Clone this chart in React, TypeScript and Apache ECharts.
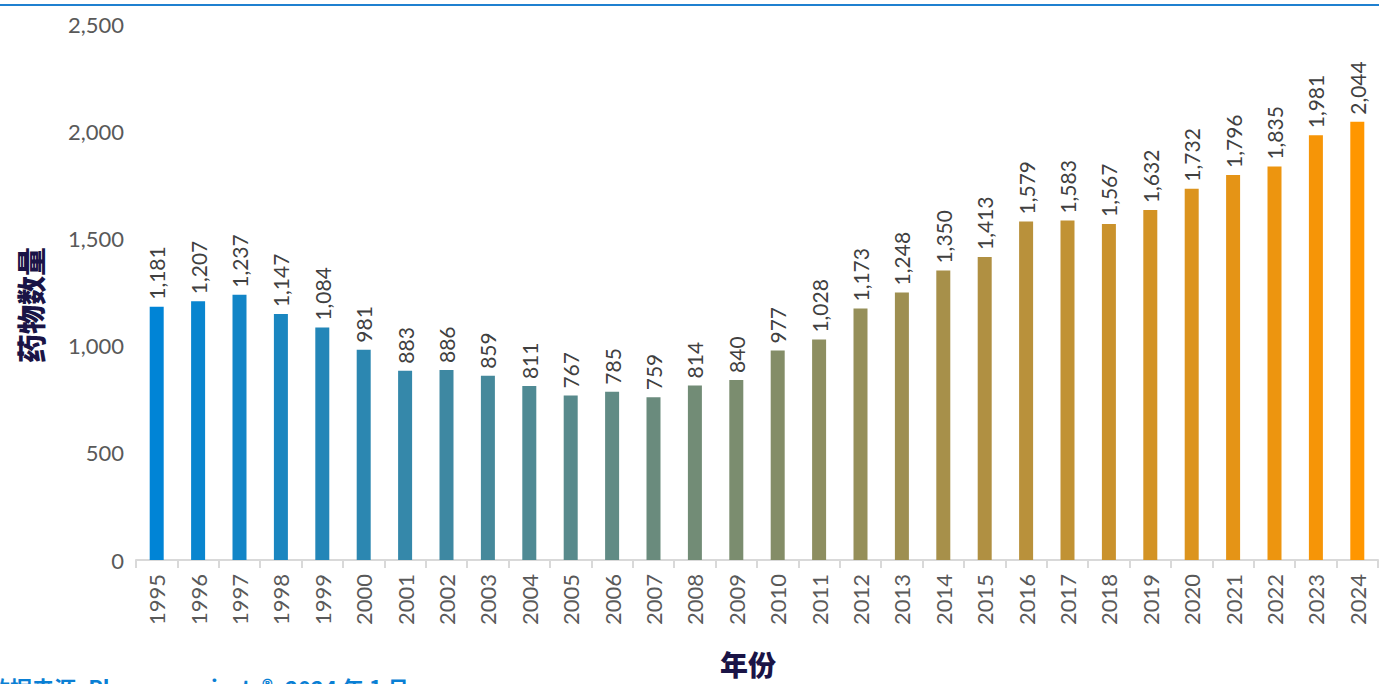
import React, { useEffect, useRef } from "react";
import * as echarts from "echarts";

const years = [
  "1995", "1996", "1997", "1998", "1999", "2000", "2001", "2002", "2003", "2004",
  "2005", "2006", "2007", "2008", "2009", "2010", "2011", "2012", "2013", "2014",
  "2015", "2016", "2017", "2018", "2019", "2020", "2021", "2022", "2023", "2024",
];
const drugCounts = [
  1181, 1207, 1237, 1147, 1084, 981, 883, 886, 859, 811,
  767, 785, 759, 814, 840, 977, 1028, 1173, 1248, 1350,
  1413, 1579, 1583, 1567, 1632, 1732, 1796, 1835, 1981, 2044,
];
const yTitle = "药物数量";
const xTitle = "年份";
const sourceText = "数据来源: Pharmaprojects®, 2024 年 1 月";

const startRGB = [0, 132, 214];
const endRGB = [255, 150, 0];
function barColor(i: number, n: number) {
  const t = n > 1 ? i / (n - 1) : 0;
  const c = startRGB.map((s, k) => Math.round(s + (endRGB[k] - s) * t));
  return `rgb(${c[0]},${c[1]},${c[2]})`;
}

export default function App() {
  const ref = useRef<HTMLDivElement>(null);
  useEffect(() => {
    if (!ref.current) return;
    const chart = echarts.init(ref.current, null, { renderer: "svg" });
    const font = "Lato, 'Noto Sans', sans-serif";
    chart.setOption({
      animation: false,
      backgroundColor: "#ffffff",
      textStyle: { fontFamily: font },
      grid: { left: 136, right: 1, top: 24, bottom: 124, containLabel: false },
      xAxis: {
        type: "category",
        data: years,
        axisLine: { show: true, lineStyle: { color: "#d9d9d9", width: 2 } },
        axisTick: { show: true, length: 8, lineStyle: { color: "#d9d9d9", width: 2 } },
        axisLabel: {
          rotate: 90,
          margin: 14,
          fontSize: 22,
          color: "#595959",
          fontFamily: font,
        },
      },
      yAxis: {
        type: "value",
        min: 0,
        max: 2500,
        interval: 500,
        splitLine: { show: false },
        axisLine: { show: false },
        axisTick: { show: false },
        axisLabel: {
          margin: 12,
          fontSize: 22,
          color: "#595959",
          fontFamily: font,
          formatter: (v: number) => v.toLocaleString("en-US"),
        },
      },
      series: [
        {
          type: "bar",
          barWidth: 14,
          data: drugCounts.map((v, i) => ({
            value: v,
            itemStyle: { color: barColor(i, drugCounts.length) },
          })),
          label: {
            show: true,
            position: "top",
            rotate: 90,
            align: "left",
            verticalAlign: "middle",
            distance: 7,
            fontSize: 21,
            color: "#404040",
            fontFamily: font,
            formatter: (p: any) => Number(p.value).toLocaleString("en-US"),
          },
        },
      ],
      graphic: [
        {
          type: "rect",
          left: 0,
          top: 4,
          shape: { width: 1379, height: 2 },
          style: { fill: "#1f80d0" },
        },
        {
          type: "text",
          x: 30,
          y: 305,
          rotation: Math.PI / 2,
          style: {
            text: yTitle,
            font: "900 29px 'Noto Sans CJK SC'",
            fill: "#1a1446",
            align: "center",
            verticalAlign: "middle",
          },
        },
        {
          type: "text",
          x: 748,
          y: 664,
          style: {
            text: xTitle,
            font: "900 28px 'Noto Sans CJK SC'",
            fill: "#1a1446",
            align: "center",
            verticalAlign: "middle",
          },
        },
        {
          type: "text",
          x: -12,
          y: 676,
          style: {
            text: sourceText,
            font: "bold 22px 'Noto Sans CJK SC'",
            fill: "#0a7fd4",
            align: "left",
            verticalAlign: "top",
          },
        },
      ],
    });
    return () => chart.dispose();
  }, []);
  return (
    <div
      ref={ref}
      style={{ position: "absolute", left: 0, top: 0, width: 1379, height: 684 }}
    />
  );
}
